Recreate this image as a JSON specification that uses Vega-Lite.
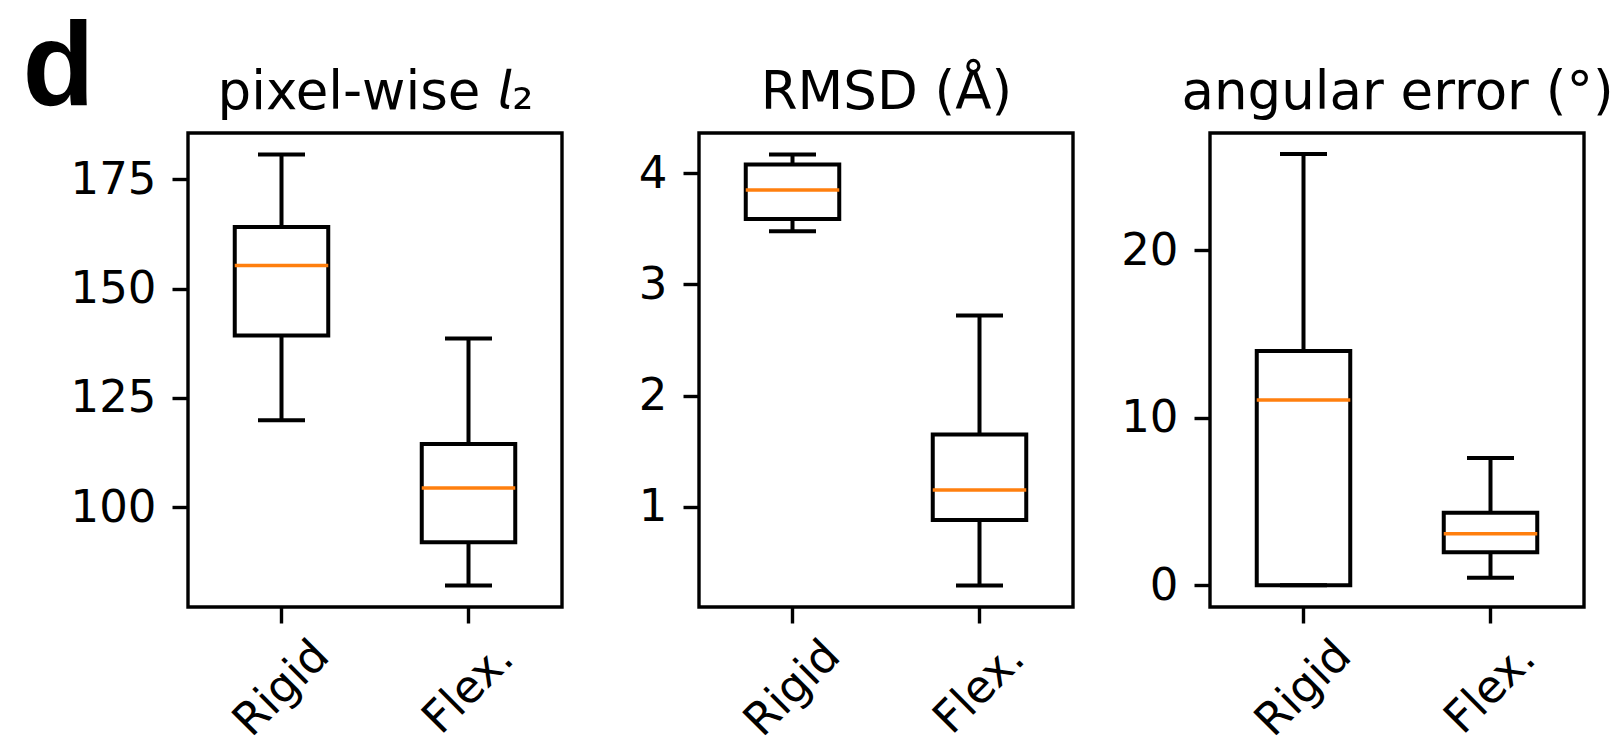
{
  "$schema": "https://vega.github.io/schema/vega-lite/v6.json",
  "background": "white",
  "padding": {"left": 20, "top": 8, "right": 5, "bottom": 0},
  "data": {"values": [
    {"metric": "pixel", "method": "Rigid", "lo": 119.9, "q1": 139.3, "med": 155.3, "q3": 164.1, "hi": 180.7},
    {"metric": "pixel", "method": "Flex.", "lo": 82.1, "q1": 92.0, "med": 104.4, "q3": 114.5, "hi": 138.6},
    {"metric": "rmsd", "method": "Rigid", "lo": 3.48, "q1": 3.59, "med": 3.85, "q3": 4.08, "hi": 4.17},
    {"metric": "rmsd", "method": "Flex.", "lo": 0.29, "q1": 0.88, "med": 1.15, "q3": 1.65, "hi": 2.72},
    {"metric": "angular", "method": "Rigid", "lo": 0, "q1": 0, "med": 11.06, "q3": 13.98, "hi": 25.74},
    {"metric": "angular", "method": "Flex.", "lo": 0.44, "q1": 1.97, "med": 3.08, "q3": 4.32, "hi": 7.59}
  ]},
  "spacing": 137,
  "bounds": "flush",
  "hconcat": [
    {
      "width": 374, "height": 474,
      "transform": [{"filter": "datum.metric === 'pixel'"}],
      "encoding": {"x": {"field": "method", "type": "nominal", "sort": ["Rigid", "Flex."], "title": null, "scale": {"paddingInner": 0, "paddingOuter": 0}, "axis": null}},
      "layer": [
        {"mark": {"type": "rule", "color": "black", "strokeWidth": 4},
         "encoding": {
           "x": {"field": "method", "type": "nominal", "sort": ["Rigid", "Flex."], "title": null, "scale": {"paddingInner": 0, "paddingOuter": 0}, "axis": {"orient": "bottom", "title": null}},
           "y": {"field": "lo", "type": "quantitative", "title": "d", "scale": {"domain": [77.2, 185.6], "nice": false, "zero": false},
           "axis": {"values": [100, 125, 150, 175], "format": "d", "title": "d", "titleAngle": 0, "titleX": -166, "titleY": -29, "titleAlign": "left", "titleBaseline": "alphabetic", "titleFont": "Liberation Sans", "titleFontSize": 118, "titleFontWeight": "bold", "titleColor": "black"}},
           "y2": {"field": "hi"}}},
        {"mark": {"type": "bar", "fill": "white", "fillOpacity": 1, "stroke": "black", "strokeWidth": 4, "width": {"band": 0.5}},
         "encoding": {"y": {"field": "q1", "type": "quantitative", "title": "d"}, "y2": {"field": "q3"}}},
        {"mark": {"type": "tick", "color": "black", "size": 47, "thickness": 4, "opacity": 1},
         "encoding": {"y": {"field": "lo", "type": "quantitative", "title": "d"}}},
        {"mark": {"type": "tick", "color": "black", "size": 47, "thickness": 4, "opacity": 1},
         "encoding": {"y": {"field": "hi", "type": "quantitative", "title": "d"}}},
        {"mark": {"type": "tick", "color": "#ff7f0e", "size": 93.5, "thickness": 3.5, "opacity": 1},
         "encoding": {
           "x": {"field": "method", "type": "nominal", "sort": ["Rigid", "Flex."], "scale": {"paddingInner": 0, "paddingOuter": 0}, "axis": {"orient": "top", "title": "pixel-wise 𝘭₂", "labels": false, "ticks": false, "domain": false, "titleFont": "DejaVu Sans", "titleFontSize": 53, "titleFontWeight": "normal", "titleColor": "black", "titleBaseline": "alphabetic", "titleY": -25, "titlePadding": 0}},
           "y": {"field": "med", "type": "quantitative", "title": "d"}}}
      ]
    },
    {
      "width": 374, "height": 474,
      "transform": [{"filter": "datum.metric === 'rmsd'"}],
      "encoding": {"x": {"field": "method", "type": "nominal", "sort": ["Rigid", "Flex."], "title": null, "scale": {"paddingInner": 0, "paddingOuter": 0}, "axis": null}},
      "layer": [
        {"mark": {"type": "rule", "color": "black", "strokeWidth": 4},
         "encoding": {
           "x": {"field": "method", "type": "nominal", "sort": ["Rigid", "Flex."], "title": null, "scale": {"paddingInner": 0, "paddingOuter": 0}, "axis": {"orient": "bottom", "title": null}},
           "y": {"field": "lo", "type": "quantitative", "title": null, "scale": {"domain": [0.096, 4.364], "nice": false, "zero": false},
           "axis": {"values": [1, 2, 3, 4], "format": "d", "title": null}},
           "y2": {"field": "hi"}}},
        {"mark": {"type": "bar", "fill": "white", "fillOpacity": 1, "stroke": "black", "strokeWidth": 4, "width": {"band": 0.5}},
         "encoding": {"y": {"field": "q1", "type": "quantitative", "title": null}, "y2": {"field": "q3"}}},
        {"mark": {"type": "tick", "color": "black", "size": 47, "thickness": 4, "opacity": 1},
         "encoding": {"y": {"field": "lo", "type": "quantitative", "title": null}}},
        {"mark": {"type": "tick", "color": "black", "size": 47, "thickness": 4, "opacity": 1},
         "encoding": {"y": {"field": "hi", "type": "quantitative", "title": null}}},
        {"mark": {"type": "tick", "color": "#ff7f0e", "size": 93.5, "thickness": 3.5, "opacity": 1},
         "encoding": {
           "x": {"field": "method", "type": "nominal", "sort": ["Rigid", "Flex."], "scale": {"paddingInner": 0, "paddingOuter": 0}, "axis": {"orient": "top", "title": "RMSD (Å)", "labels": false, "ticks": false, "domain": false, "titleFont": "DejaVu Sans", "titleFontSize": 53, "titleFontWeight": "normal", "titleColor": "black", "titleBaseline": "alphabetic", "titleY": -25, "titlePadding": 0}},
           "y": {"field": "med", "type": "quantitative", "title": null}}}
      ]
    },
    {
      "width": 374, "height": 474,
      "transform": [{"filter": "datum.metric === 'angular'"}],
      "encoding": {"x": {"field": "method", "type": "nominal", "sort": ["Rigid", "Flex."], "title": null, "scale": {"paddingInner": 0, "paddingOuter": 0}, "axis": null}},
      "layer": [
        {"mark": {"type": "rule", "color": "black", "strokeWidth": 4},
         "encoding": {
           "x": {"field": "method", "type": "nominal", "sort": ["Rigid", "Flex."], "title": null, "scale": {"paddingInner": 0, "paddingOuter": 0}, "axis": {"orient": "bottom", "title": null}},
           "y": {"field": "lo", "type": "quantitative", "title": null, "scale": {"domain": [-1.3, 27.0], "nice": false, "zero": false},
           "axis": {"values": [0, 10, 20], "format": "d", "title": null}},
           "y2": {"field": "hi"}}},
        {"mark": {"type": "bar", "fill": "white", "fillOpacity": 1, "stroke": "black", "strokeWidth": 4, "width": {"band": 0.5}},
         "encoding": {"y": {"field": "q1", "type": "quantitative", "title": null}, "y2": {"field": "q3"}}},
        {"mark": {"type": "tick", "color": "black", "size": 47, "thickness": 4, "opacity": 1},
         "encoding": {"y": {"field": "lo", "type": "quantitative", "title": null}}},
        {"mark": {"type": "tick", "color": "black", "size": 47, "thickness": 4, "opacity": 1},
         "encoding": {"y": {"field": "hi", "type": "quantitative", "title": null}}},
        {"mark": {"type": "tick", "color": "#ff7f0e", "size": 93.5, "thickness": 3.5, "opacity": 1},
         "encoding": {
           "x": {"field": "method", "type": "nominal", "sort": ["Rigid", "Flex."], "scale": {"paddingInner": 0, "paddingOuter": 0}, "axis": {"orient": "top", "title": "angular error (°)", "labels": false, "ticks": false, "domain": false, "titleFont": "DejaVu Sans", "titleFontSize": 53, "titleFontWeight": "normal", "titleColor": "black", "titleBaseline": "alphabetic", "titleY": -25, "titlePadding": 0}},
           "y": {"field": "med", "type": "quantitative", "title": null}}}
      ]
    }
  ],
  "config": {
    "view": {"stroke": "black", "strokeWidth": 3.4},
    "axis": {"domain": false, "grid": false, "ticks": true, "tickColor": "black", "tickWidth": 3.4, "tickSize": 16, "labelColor": "black", "labelFont": "DejaVu Sans", "labelFontSize": 45, "labelPadding": 16},
    "axisX": {"labelAngle": -45, "labelAlign": "center", "labelBaseline": "middle", "labelPadding": 65},
    "axisY": {"labelAlign": "right", "labelBaseline": "middle"}
  }
}
